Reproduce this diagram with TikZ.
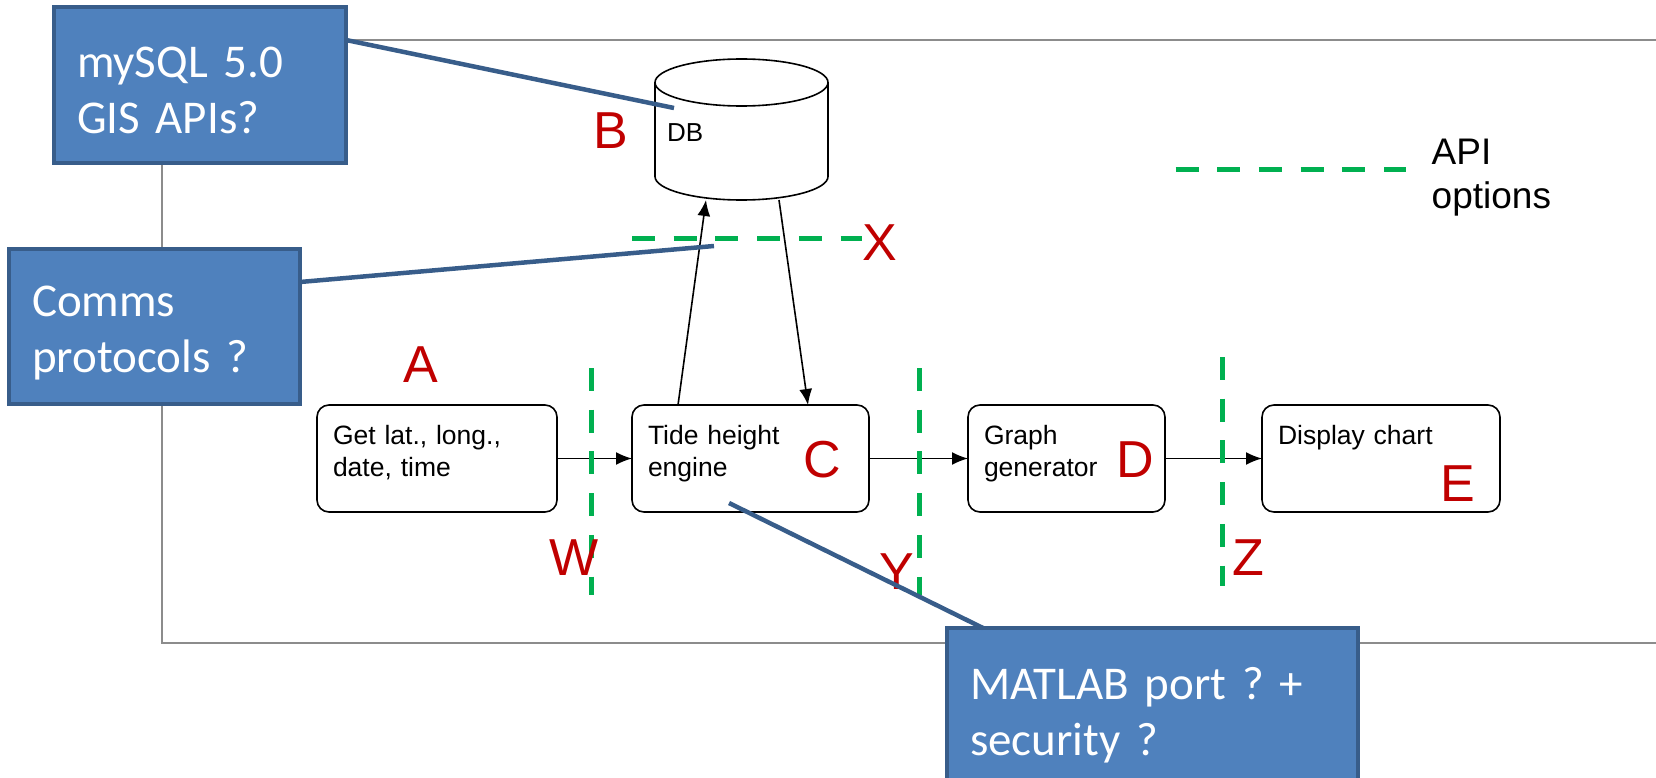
\documentclass[tikz,border=0pt]{standalone}
\usepackage{fontspec}
\setmainfont{Liberation Sans}
\newfontfamily\calloutfont{Carlito}
\usetikzlibrary{arrows.meta}
\definecolor{calloutfill}{HTML}{4F81BD}
\definecolor{calloutedge}{HTML}{385D8A}
\definecolor{apigreen}{HTML}{00B050}
\definecolor{tagred}{HTML}{C00000}
\definecolor{framegray}{HTML}{8C8C8C}

\begin{document}
\begin{tikzpicture}[x=1pt, y=-1pt,
  stage/.style={draw, rounded corners=12pt, line width=1.6pt, anchor=north west, outer sep=0pt,
    inner xsep=16pt, inner ysep=0pt, text height=39pt, text depth=68pt, align=left,
    font=\fontsize{26.5}{32}\selectfont},
  callout/.style={fill=calloutfill, draw=calloutedge, line width=4.5pt, anchor=north west, outer sep=0pt,
    inner xsep=23pt, inner ysep=0pt, align=left, text=white,
    font=\calloutfont\fontsize{47}{56}\selectfont,
    execute at begin node={\frenchspacing}},
  pin/.style={draw=calloutedge, line width=4.5pt},
  apiline/.style={draw=apigreen, line width=5pt, dash pattern=on 23pt off 18.7pt},
  tag/.style={text=tagred, anchor=base, inner sep=0pt, font=\fontsize{52}{52}\selectfont},
  flow/.style={-{Latex[length=16pt, width=13pt]}, line width=1.6pt},
  dbline/.style={line width=1.6pt}]
\useasboundingbox (0,0) rectangle (1656,778);

% outer frame
\draw[framegray, line width=2pt] (161.5,40) rectangle (1700,643);

% database
\node[minimum width=173pt, minimum height=141pt, inner sep=0pt, outer sep=0pt] (db) at (741.5,129.5) {};
\draw[dbline] ([yshift=-23.5pt]db.north west) -- ([yshift=23.5pt]db.south west)
  arc[start angle=180, end angle=360, x radius=86.5pt, y radius=23.5pt] -- ([yshift=-23.5pt]db.north east);
\draw[dbline] ([yshift=-23.5pt]db.north) ellipse [x radius=86.5pt, y radius=23.5pt];
\node[anchor=base west, inner sep=0pt, font=\fontsize{26}{26}\selectfont] (dbtext) at (667,142) {DB};

% processing stages
\node[stage, text width=208pt] (get) at (317,405) {Get lat., long.,\\date, time};
\node[stage, text width=205pt] (tide) at (632,405) {Tide height\\engine};
\node[stage, text width=165pt] (graph) at (968,405) {Graph\\generator};
\node[stage, text width=206pt] (chart) at (1262,405) {Display chart\\~};

% flow arrows
\draw[flow] (get.east) -- (tide.west);
\draw[flow] (tide.east) -- (graph.west);
\draw[flow] (graph.east) -- (chart.west);
\draw[flow] ([xshift=46pt]tide.north west) -- ([xshift=-35.5pt]db.south);
\draw[flow] ([xshift=37.5pt]db.south) -- ([xshift=176pt]tide.north west);

% API options (dashed)
\draw[apiline] (632,238) -- (862,238);
\draw[apiline] (591,368) -- (591,595);
\draw[apiline] (919,368) -- (919,595);
\draw[apiline] (1222,357) -- (1222,586);
\draw[apiline] (1175.5,170) -- (1406,170);
\node[anchor=base west, inner sep=0pt, align=left, font=\fontsize{37}{44}\selectfont] (apilabel) at (1431.5,208) {API\\options};

% red letters
\node[tag] (tagA) at (420.5,382) {A};
\node[tag] (tagB) at (611,149) {B};
\node[tag] (tagX) at (880,260) {X};
\node[tag] (tagC) at (822,477) {C};
\node[tag] (tagD) at (1135,477) {D};
\node[tag] (tagE) at (1458,501) {E};
\node[tag] (tagW) at (574,575) {W};
\node[tag] (tagY) at (896.5,589) {Y};
\node[tag] (tagZ) at (1248,575) {Z};

% callout pins
\coordinate (dbpin) at (674,108);
\coordinate (xpin) at (714,246);
\coordinate (tidepin) at (729,503);
\node[callout, text width=246pt, text height=71pt, text depth=85pt] (mysql) at (54,7) {mySQL 5.0\\GIS APIs?};
\node[callout, text width=245pt, text height=67pt, text depth=88pt] (comms) at (9,249) {Comms\\protocols ?};
\node[callout, text width=365pt, text height=71pt, text depth=103pt] (matlab) at (947,628) {MATLAB port ? +\\security ?};
\draw[pin] ([yshift=-33pt]mysql.north east) -- (dbpin);
\draw[pin] ([yshift=-33pt]comms.north east) -- (xpin);
\draw[pin] ([xshift=36pt]matlab.north west) -- (tidepin);

\end{tikzpicture}
\end{document}
